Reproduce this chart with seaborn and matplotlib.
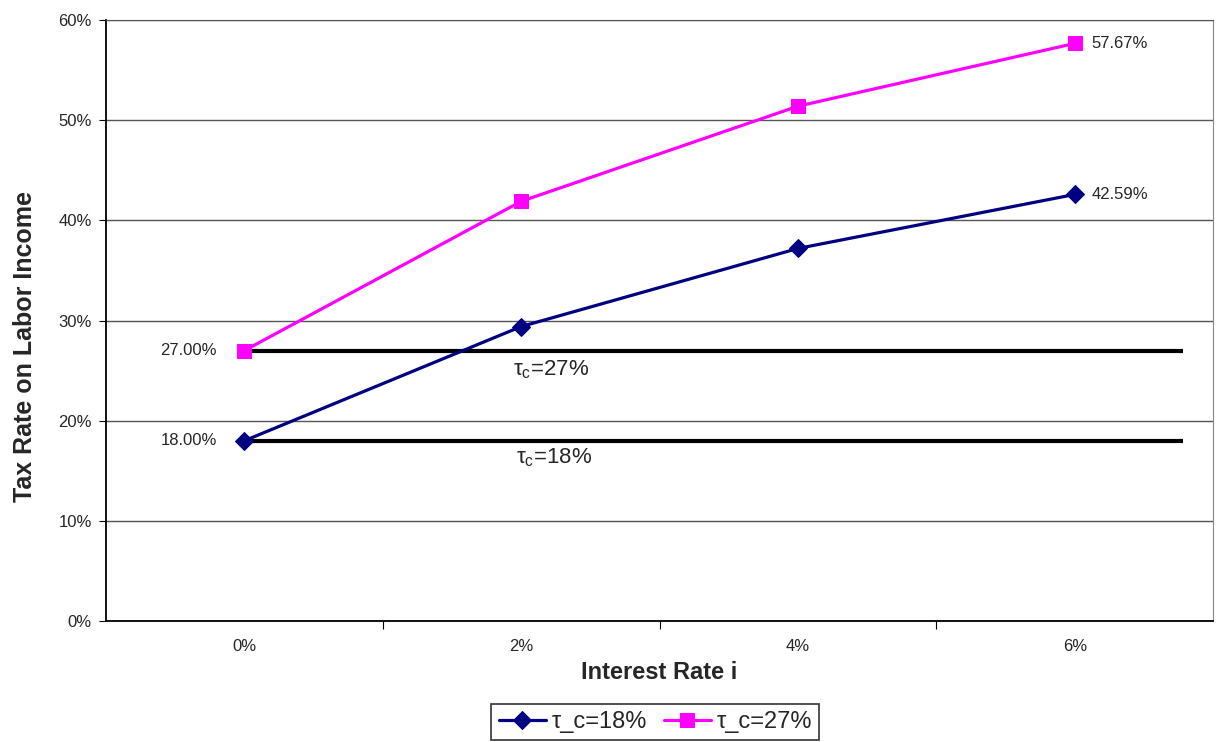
import numpy as np
import pandas as pd
import matplotlib
matplotlib.use('Agg')
import matplotlib.pyplot as plt
import seaborn as sns

# data
rates = ['0%', '2%', '4%', '6%']
tax_18 = [18.00, 29.4, 37.2, 42.59]
tax_27 = [27.00, 41.9, 51.4, 57.67]
flat_levels = [27, 18]

sns.set_style('white')
plt.rcParams['font.family'] = ['Liberation Sans', 'DejaVu Sans']

fig = plt.figure(figsize=(12.17, 7.42), dpi=100)
ax = fig.add_axes([0.087, 0.163, 0.91, 0.81])

pos = np.arange(len(rates))
df = pd.DataFrame({'pos': pos, 't18': tax_18, 't27': tax_27})

sns.lineplot(data=df, x='pos', y='t18', ax=ax, color='#000080', marker='D',
             markersize=9, linewidth=2.3, markeredgecolor='#000080', label='τ_c=18%')
sns.lineplot(data=df, x='pos', y='t27', ax=ax, color='#FF00FF', marker='s',
             markersize=10, linewidth=2.3, markeredgecolor='#FF00FF', label='τ_c=27%')

# flat reference lines
for lv in flat_levels:
    ax.hlines(lv, 0, 3.39, color='black', linewidth=3, zorder=1)
ax.text(0.97, 25.1, 'τ$_\\mathregular{c}$=27%', fontsize=16, va='center', ha='left')
ax.text(0.98, 16.3, 'τ$_\\mathregular{c}$=18%', fontsize=16, va='center', ha='left')

# data labels on end points
ax.text(-0.1, tax_27[0], '%.2f%%' % tax_27[0], fontsize=12, ha='right', va='center')
ax.text(-0.1, tax_18[0], '%.2f%%' % tax_18[0], fontsize=12, ha='right', va='center')
ax.text(3.06, tax_27[3], '%.2f%%' % tax_27[3], fontsize=12, ha='left', va='center')
ax.text(3.06, tax_18[3], '%.2f%%' % tax_18[3], fontsize=12, ha='left', va='center')

ax.set_xlim(-0.5, 3.5)
ax.set_ylim(0, 60)
ax.set_yticks(np.arange(0, 61, 10))
ax.set_yticklabels(['%d%%' % v for v in range(0, 61, 10)], fontsize=12)
ax.yaxis.grid(True, color='#555555', linewidth=1)
ax.set_axisbelow(True)

ax.set_xticks([0.5, 1.5, 2.5])
ax.set_xticklabels([])
ax.set_xticks(pos, minor=True)
ax.set_xticklabels(rates, minor=True)
ax.tick_params(axis='x', which='major', direction='out', length=6, color='black', bottom=True)
ax.tick_params(axis='x', which='minor', length=0, pad=13, labelsize=12)
ax.tick_params(axis='y', direction='out', length=5, color='black', left=True, pad=5)

for s in ['left', 'bottom']:
    ax.spines[s].set_color('black')
    ax.spines[s].set_linewidth(1.3)
ax.spines['top'].set_color('#555555')
ax.spines['right'].set_color('#888888')

ax.set_xlabel('Interest Rate i', fontsize=17, fontweight='bold')
ax.xaxis.set_label_coords(0.5, -0.085)
ax.xaxis.label.set_va('center')
ax.set_ylabel('Tax Rate on Labor Income', fontsize=18, fontweight='bold')
ax.yaxis.set_label_coords(-0.073, 0.456)
ax.yaxis.label.set_va('center')

leg = ax.legend(loc='upper center', bbox_to_anchor=(0.5385, 0.051),
                bbox_transform=fig.transFigure, ncol=2, fontsize=17,
                frameon=True, fancybox=False, edgecolor='black',
                handlelength=2.0, handletextpad=0.25, columnspacing=0.7,
                borderpad=0.3, borderaxespad=0)
leg.get_frame().set_linewidth(1.2)

fig.savefig('out.png', dpi=100)
